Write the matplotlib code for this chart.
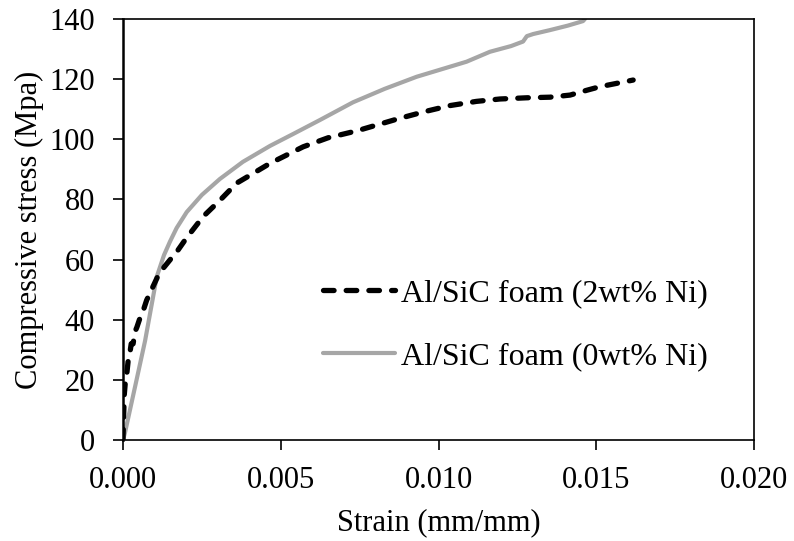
import matplotlib
matplotlib.use("Agg")
import matplotlib.pyplot as plt

plt.rcParams['font.family'] = ['Liberation Serif', 'DejaVu Serif']

strain_ni2 = [0.0, 0.00002, 0.00004, 0.00008, 0.00012, 0.00016, 0.00022, 0.00026, 0.00032,
              0.00038, 0.00044, 0.00052, 0.00064, 0.00075, 0.00095, 0.00115, 0.00149,
              0.00170, 0.00200, 0.00254, 0.00310, 0.00360, 0.00410, 0.00466, 0.00571, 0.00650,
              0.00741, 0.00878, 0.00960, 0.01036, 0.01120, 0.01195, 0.01280, 0.01353,
              0.01417, 0.01470, 0.01512, 0.01560, 0.01617]
stress_ni2 = [0.0, 8.0, 15.0, 20.0, 22.0, 26.0, 29.0, 32.0, 32.0,
              36.0, 37.5, 40.0, 43.0, 46.5, 51.0, 55.5, 59.9,
              62.5, 67.0, 74.3, 80.0, 85.4, 88.5, 92.0, 97.5, 100.5,
              102.8, 107.0, 109.3, 111.2, 112.6, 113.4, 113.8, 114.0,
              114.7, 116.3, 117.5, 118.5, 119.7]

strain_ni0 = [0.0, 0.00006, 0.00020, 0.00043, 0.00070, 0.00107, 0.00130, 0.00149,
              0.00170, 0.00202, 0.00250, 0.00307, 0.00380, 0.00466, 0.00540, 0.00624, 0.00729,
              0.00830, 0.00931, 0.01010, 0.01089, 0.01163, 0.01230, 0.01268, 0.01280,
              0.01300, 0.01353, 0.01410, 0.01458, 0.01464]
stress_ni0 = [0.0, 2.3, 9.0, 20.0, 33.0, 54.3, 61.5, 66.0,
              70.5, 75.8, 81.5, 86.8, 92.5, 97.8, 101.8, 106.4, 112.3,
              116.8, 120.8, 123.3, 125.8, 129.1, 131.0, 132.5, 134.3,
              135.0, 136.3, 137.8, 139.3, 140.0]

label_ni2 = "Al/SiC foam (2wt% Ni)"
label_ni0 = "Al/SiC foam (0wt% Ni)"
xticks = [0.000, 0.005, 0.010, 0.015, 0.020]
yticks = [0, 20, 40, 60, 80, 100, 120, 140]

fig = plt.figure(figsize=(7.94, 5.41), dpi=100)
ax = fig.add_axes([123/794, 101/541, 631/794, 421/541])

ax.plot(strain_ni2, stress_ni2, color='black', lw=3.8, linestyle=(0, (2.0, 2.3)),
        dash_capstyle='round', label=label_ni2, zorder=3)
ax.plot(strain_ni0, stress_ni0, color='#A6A6A6', lw=3, solid_capstyle='round',
        label=label_ni0, zorder=2)

ax.set_xlim(0, 0.020)
ax.set_ylim(0, 140)
ax.set_xticks(xticks)
ax.set_xticklabels([f"{v:.3f}" for v in xticks])
ax.set_yticks(yticks)
ax.tick_params(direction='out', length=7, width=1.2, labelsize=22)
ax.tick_params(axis='y', pad=13)
ax.tick_params(axis='x', pad=12)
for s in ['top', 'right', 'bottom']:
    ax.spines[s].set_linewidth(1.2)
ax.spines['left'].set_linewidth(1.8)

ax.set_xlabel("Strain (mm/mm)", fontsize=22, labelpad=9)
ax.set_ylabel("Compressive stress (Mpa)", fontsize=22, labelpad=4)

leg = ax.legend(loc='center left', bbox_to_anchor=(0.317, 0.273), frameon=False,
                fontsize=23, handlelength=2.25, handletextpad=0.2, labelspacing=1.05,
                borderpad=0, borderaxespad=0)

fig.savefig("out.png", dpi=100)
